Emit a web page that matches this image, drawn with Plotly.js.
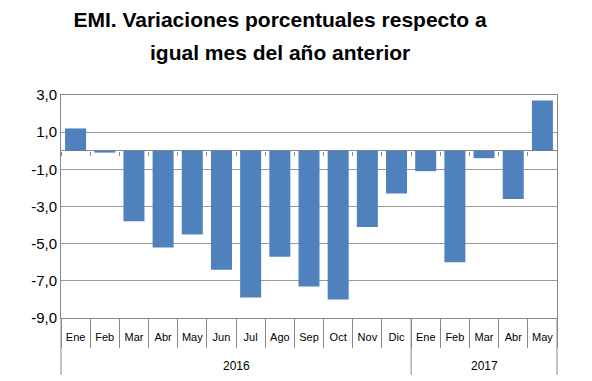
<!DOCTYPE html>
<html><head><meta charset="utf-8">
<script src="https://cdn.plot.ly/plotly-3.0.1.min.js"></script>
<style>html,body{margin:0;padding:0;background:#fff}#c{width:592px;height:381px}</style>
</head><body><div id="c"></div>
<script>
const years = ["2016","2016","2016","2016","2016","2016","2016","2016","2016","2016","2016","2016","2017","2017","2017","2017","2017"];
const months = ["Ene","Feb","Mar","Abr","May","Jun","Jul","Ago","Sep","Oct","Nov","Dic","Ene","Feb","Mar","Abr","May"];
const values = [1.2,-0.1,-3.8,-5.2,-4.5,-6.4,-7.9,-5.7,-7.3,-8.0,-4.1,-2.3,-1.1,-6.0,-0.4,-2.6,2.7];
const yTicks = [3,1,-1,-3,-5,-7,-9];
const yTickText = ["3,0","1,0","-1,0","-3,0","-5,0","-7,0","-9,0"];
const titleLine1 = "EMI. Variaciones porcentuales respecto a";
const titleLine2 = "igual mes del año anterior";
const tfont = {family: "Liberation Sans, Arial, sans-serif", size: 21, color: "#000", weight: "bold"};
const lfont = {family: "Liberation Sans, Arial, sans-serif", size: 11, color: "#000"};

const keys = months.map((m, i) => m + " " + years[i]);
const n = keys.length;

// year groups
const yearList = [...new Set(years)];
const yearAnn = [], yearDiv = [0];
yearList.forEach(y => {
  const first = years.indexOf(y), last = years.lastIndexOf(y);
  yearAnn.push({text: y, xref: "paper", yref: "paper", x: ((first + last + 1) / 2) / n, y: -(366 - 318) / 223,
    xanchor: "center", yanchor: "middle", showarrow: false, font: {family: lfont.family, size: 12, color: "#000"}});
  yearDiv.push((last + 1) / n);
});

Plotly.newPlot("c", [{
  type: "bar", x: keys, y: values, marker: {color: "#4f81bd"}, hoverinfo: "skip"
}, {
  type: "bar", x: keys, y: values, xaxis: "x2", marker: {color: "rgba(0,0,0,0)"}, hoverinfo: "skip"
}], {
  width: 592, height: 381,
  margin: {l: 61, r: 35, t: 95, b: 63},
  paper_bgcolor: "#fff", plot_bgcolor: "#fff",
  bargap: 0.28,
  showlegend: false,
  title: {text: titleLine1, x: 280/592, xanchor: "center", yref: "container", y: 1 - 20/381, yanchor: "middle", font: tfont},
  annotations: [{text: titleLine2, xref: "paper", yref: "paper", x: (280-61)/496, y: 1 + (95-52)/223,
    xanchor: "center", yanchor: "middle", showarrow: false, font: tfont}].concat(yearAnn),
  shapes: yearDiv.map(p => ({type: "line", xref: "paper", yref: "paper", x0: p, x1: p, y0: 0, y1: -(375 - 318) / 223,
    line: {color: "#888", width: 1}})),
  xaxis: {type: "category", tickvals: keys, ticktext: months, tickson: "boundaries",
    showline: true, linecolor: "#888", mirror: true, tickangle: 0,
    ticks: "outside", tickcolor: "#888", ticklen: 29, ticklabelstandoff: 9, tickfont: lfont},
  xaxis2: {type: "category", matches: "x", overlaying: "x", anchor: "free", position: 0.75, side: "bottom",
    tickvals: keys, tickson: "boundaries", showticklabels: false, showline: false, showgrid: false,
    ticks: "outside", tickcolor: "#888", ticklen: 4},
  yaxis: {range: [-9, 3], tickvals: yTicks, ticktext: yTickText, showgrid: true, gridcolor: "#9a9a9a",
    showline: true, linecolor: "#888", mirror: true, zeroline: true, zerolinecolor: "#888", zerolinewidth: 1,
    ticks: "", tickfont: {family: "Liberation Sans, Arial, sans-serif", size: 15, color: "#000"}}
}, {displayModeBar: false, staticPlot: true});
</script></body></html>
